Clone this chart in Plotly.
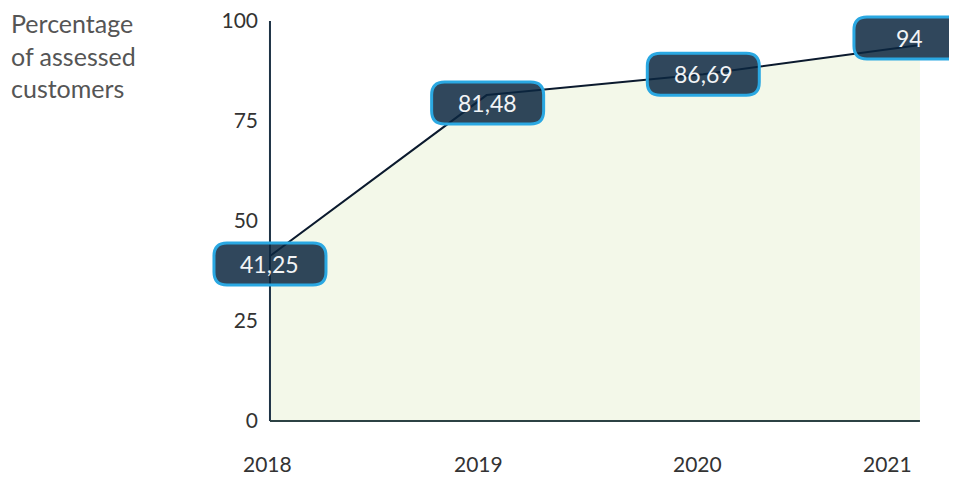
import plotly.graph_objects as go

years = [2018, 2019, 2020, 2021]
values = [41.25, 81.48, 86.69, 94]
y_ticks = [0, 25, 50, 75, 100]
title_lines = ["Percentage", "of assessed", "customers"]

# pixel nudges for each label box (dx, dy), same order as years
label_offsets = [(0, -8), (1, -8), (0, 0), (-10, 7)]
# horizontal nudges for the year labels under the axis
year_label_dx = [-2, -8, -6, -32]

FONT = "Lato"
BOX_W, BOX_H, RAD = 112, 42, 13


def rounded_box(cx, cy, w, h, r):
    l, rt = cx - w / 2, cx + w / 2
    b, t = cy - h / 2, cy + h / 2
    return (f"M {l + r},{t} L {rt - r},{t} Q {rt},{t} {rt},{t - r} "
            f"L {rt},{b + r} Q {rt},{b} {rt - r},{b} L {l + r},{b} "
            f"Q {l},{b} {l},{b + r} L {l},{t - r} Q {l},{t} {l + r},{t} Z")


fig = go.Figure()
fig.add_trace(go.Scatter(
    x=years, y=values, mode="lines", fill="tozeroy",
    fillcolor="#f3f8e9", line=dict(color="#0b1a2e", width=2),
    hoverinfo="skip", showlegend=False
))

# axis lines only over the data span
fig.add_shape(type="line", xref="x", yref="y", x0=years[0], x1=years[0], y0=0, y1=100,
              line=dict(color="#1e3346", width=2), layer="above")
fig.add_shape(type="line", xref="x", yref="y", x0=years[0], x1=years[-1], y0=0, y1=0,
              line=dict(color="#2c4244", width=2), layer="above")

for yr, v, (dx, dy) in zip(years, values, label_offsets):
    fig.add_shape(type="path", xref="x", yref="y", xsizemode="pixel", ysizemode="pixel",
                  xanchor=yr, yanchor=v, path=rounded_box(dx, dy, BOX_W, BOX_H, RAD),
                  fillcolor="rgba(12,39,64,0.85)", line=dict(color="#2aa8e2", width=3),
                  layer="above")
    fig.add_annotation(x=yr, y=v, xref="x", yref="y", showarrow=False,
                       text=f"{v:g}".replace(".", ","), xshift=dx, yshift=dy,
                       font=dict(family=FONT, size=23, color="#f2f4f6"))

# year labels
for yr, dx in zip(years, year_label_dx):
    fig.add_annotation(x=yr, y=0, xref="x", yref="paper", yanchor="middle", showarrow=False,
                       text=str(yr), xshift=dx, yshift=-33, borderpad=0,
                       font=dict(family=FONT, size=21, color="#333333"))

fig.add_annotation(x=0, y=1, xref="paper", yref="paper", xanchor="left", yanchor="top",
                   text="<br>".join(title_lines), align="left", showarrow=False,
                   xshift=-192 + 2, yshift=1, borderpad=0,
                   font=dict(family=FONT, size=25, color="#555555"))

# page body adds an 8px margin, so the figure is sized 8px smaller
fig.update_layout(
    width=949, height=469,
    margin=dict(l=192, r=0, t=0, b=47),
    paper_bgcolor="white", plot_bgcolor="white",
    font=dict(family=FONT, size=21, color="#333333"),
    showlegend=False,
    xaxis=dict(range=[2017.677, 2021.171], showticklabels=False,
               showgrid=False, zeroline=False, showline=False, ticks="",
               automargin=False, fixedrange=True),
    yaxis=dict(range=[-2.25, 103.25], tickvals=y_ticks, showgrid=False, zeroline=False,
               showline=False, ticks="", anchor="free", position=70 / 757,
               ticklabelstandoff=12, ticklabeloverflow="allow",
               automargin=False, fixedrange=True),
)

fig.write_html("out.html")
